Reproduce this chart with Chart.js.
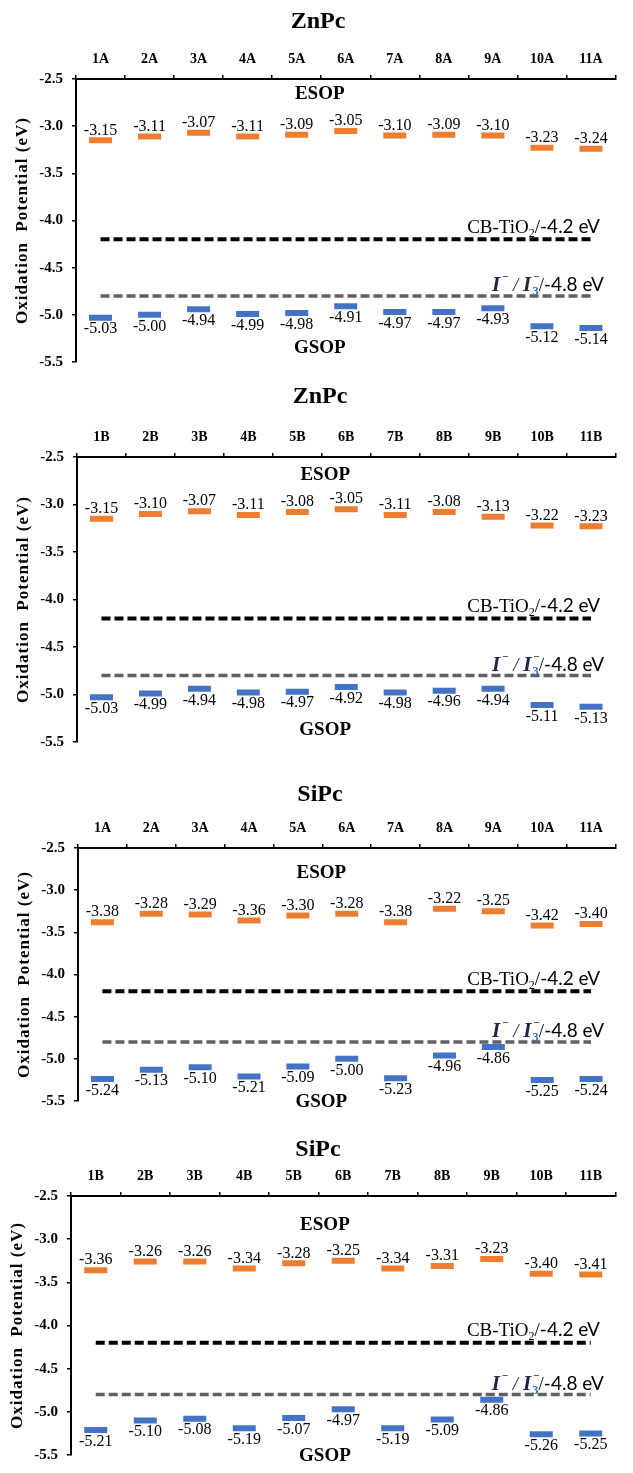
<!DOCTYPE html>
<html>
<head>
<meta charset="utf-8">
<script src="https://cdn.jsdelivr.net/npm/chart.js@4.4.0/dist/chart.umd.min.js"></script>
<style>
body{margin:0;background:#fff;width:633px;height:1473px;position:relative;overflow:hidden}
canvas{position:absolute;left:0}
</style>
</head>
<body>
<canvas id="c1" width="633" height="380" style="top:0px"></canvas>
<canvas id="c2" width="633" height="385" style="top:375px"></canvas>
<canvas id="c3" width="633" height="365" style="top:755px"></canvas>
<canvas id="c4" width="633" height="358" style="top:1115px"></canvas>
<script>
// categories
const catsA = ['1A','2A','3A','4A','5A','6A','7A','8A','9A','10A','11A'];
const catsB = ['1B','2B','3B','4B','5B','6B','7B','8B','9B','10B','11B'];
const yTicks = [-2.5, -3.0, -3.5, -4.0, -4.5, -5.0, -5.5];
const refLevels = [-4.2, -4.8];

// ZnPc A
const znA_esop = [-3.15,-3.11,-3.07,-3.11,-3.09,-3.05,-3.10,-3.09,-3.10,-3.23,-3.24];
const znA_gsop = [-5.03,-5.00,-4.94,-4.99,-4.98,-4.91,-4.97,-4.97,-4.93,-5.12,-5.14];
// ZnPc B
const znB_esop = [-3.15,-3.10,-3.07,-3.11,-3.08,-3.05,-3.11,-3.08,-3.13,-3.22,-3.23];
const znB_gsop = [-5.03,-4.99,-4.94,-4.98,-4.97,-4.92,-4.98,-4.96,-4.94,-5.11,-5.13];
// SiPc A
const siA_esop = [-3.38,-3.28,-3.29,-3.36,-3.30,-3.28,-3.38,-3.22,-3.25,-3.42,-3.40];
const siA_gsop = [-5.24,-5.13,-5.10,-5.21,-5.09,-5.00,-5.23,-4.96,-4.86,-5.25,-5.24];
// SiPc B
const siB_esop = [-3.36,-3.26,-3.26,-3.34,-3.28,-3.25,-3.34,-3.31,-3.23,-3.40,-3.41];
const siB_gsop = [-5.21,-5.10,-5.08,-5.19,-5.07,-4.97,-5.19,-5.09,-4.86,-5.26,-5.25];

const SERIF = "'Liberation Serif','Times New Roman',serif";
const SANS = "Lato,'Liberation Sans',sans-serif";
const ORANGE = '#ED7D31';
const BLUE = '#4472C4';

const panels = [
    {id:'c1', title:'ZnPc', cats:catsA, esop:znA_esop, gsop:znA_gsop,
     area:{l:76, t:79, r:623, b:363}, titleX:318, titleY:22, esopAt:[4.47,-2.66], gsopAt:[4.47,-5.35]},
    {id:'c2', title:'ZnPc', cats:catsB, esop:znB_esop, gsop:znB_gsop,
     area:{l:77, t:82, r:626, b:370}, titleX:320, titleY:22, esopAt:[4.57,-2.69], gsopAt:[4.57,-5.375]},
    {id:'c3', title:'SiPc', cats:catsA, esop:siA_esop, gsop:siA_gsop,
     area:{l:78, t:93, r:626, b:346}, titleX:320, titleY:40, esopAt:[4.48,-2.80], gsopAt:[4.48,-5.51]},
    {id:'c4', title:'SiPc', cats:catsB, esop:siB_esop, gsop:siB_gsop,
     area:{l:71, t:81, r:633, b:349}, titleX:318, titleY:35, esopAt:[4.63,-2.84], gsopAt:[4.63,-5.51]}
];

function drawRuns(ctx, runs, right, base)
{
    let w = 0;
    runs.forEach(r => {
        ctx.font = r.font;
        r.w = ctx.measureText(r.t).width + (r.after || 0);
        if(!r.stack) w += r.w;
    });
    let x = right - w;
    ctx.textAlign = 'left';
    ctx.textBaseline = 'alphabetic';
    runs.forEach(r => {
        ctx.font = r.font;
        ctx.fillStyle = r.color || '#000';
        ctx.fillText(r.t, x + (r.dx || 0), base + (r.dy || 0));
        if(!r.stack) x += r.w;
    });
}

function makePlugin(p)
{
    return {
        id: 'panelText',
        afterDraw(chart)
        {
            const ctx = chart.ctx;
            const xs = chart.scales.x, ys = chart.scales.y;
            const ca = chart.chartArea;
            ctx.save();

            // panel title
            ctx.fillStyle = '#000';
            ctx.font = 'bold 24px ' + SERIF;
            ctx.textAlign = 'center';
            ctx.textBaseline = 'middle';
            ctx.fillText(p.title, p.titleX, p.titleY);

            // y axis title
            ctx.save();
            ctx.translate(ca.left - 53, (ca.top + ca.bottom) / 2);
            ctx.rotate(-Math.PI / 2);
            ctx.font = 'bold 17px ' + SERIF;
            ctx.letterSpacing = '1px';
            ctx.fillText('Oxidation  Potential (eV)', 0, 0);
            ctx.restore();

            // value labels
            ctx.font = '16px ' + SERIF;
            ctx.textAlign = 'center';
            ctx.textBaseline = 'middle';
            ctx.fillStyle = '#000';
            chart.getDatasetMeta(0).data.forEach((pt, i) => {
                ctx.fillText(p.esop[i].toFixed(2), pt.x, pt.y - 10);
            });
            chart.getDatasetMeta(1).data.forEach((pt, i) => {
                ctx.fillText(p.gsop[i].toFixed(2), pt.x, pt.y + 11.5);
            });

            // ESOP / GSOP
            ctx.font = 'bold 19px ' + SERIF;
            ctx.fillText('ESOP', xs.getPixelForValue(p.esopAt[0]), ys.getPixelForValue(p.esopAt[1]));
            ctx.fillText('GSOP', xs.getPixelForValue(p.gsopAt[0]), ys.getPixelForValue(p.gsopAt[1]));

            // reference line labels
            const xr = xs.getPixelForValue(10);
            const y42 = ys.getPixelForValue(refLevels[0]);
            const y48 = ys.getPixelForValue(refLevels[1]);
            drawRuns(ctx, [
                {t:'CB-TiO', font:'19px ' + SERIF},
                {t:'2', font:'12px ' + SERIF, dy:4},
                {t:'/', font:'19px ' + SERIF},
                {t:'-4.2 eV', font:'19px ' + SANS}
            ], xr + 9, y42 - 6.5);
            drawRuns(ctx, [
                {t:'I', font:'italic bold 21px ' + SERIF, color:'#1d2645', after:2},
                {t:'\u2212', font:'bold 11px ' + SERIF, dy:-11, color:'#1d2645'},
                {t:' / ', font:'italic 19px ' + SERIF, color:'#1d2645'},
                {t:'I', font:'italic bold 21px ' + SERIF, color:'#1d2645', after:1},
                {t:'\u2212', font:'bold 11px ' + SERIF, dy:-11, dx:1, color:'#1d2645', stack:true},
                {t:'3', font:'bold 13px ' + SERIF, dy:4, color:'#3b6fc6'},
                {t:'/', font:'19px ' + SERIF},
                {t:'-4.8 eV', font:'19px ' + SANS}
            ], xr + 13, y48 - 5);

            ctx.restore();
        }
    };
}

panels.forEach(p =>
{
    const canvas = document.getElementById(p.id);
    const ctx = canvas.getContext('2d');
    const H = canvas.height;
    const xH = 30;

    new Chart(ctx, {
        type: 'line',
        data: {
            labels: p.cats,
            datasets: [
                {label:'ESOP', data:p.esop, showLine:false, pointStyle:'line',
                 pointRadius:11.5, pointHoverRadius:11.5, pointBorderWidth:6, pointHoverBorderWidth:6,
                 pointBorderColor:ORANGE, pointBackgroundColor:ORANGE, borderColor:ORANGE},
                {label:'GSOP', data:p.gsop, showLine:false, pointStyle:'line',
                 pointRadius:11.5, pointHoverRadius:11.5, pointBorderWidth:6, pointHoverBorderWidth:6,
                 pointBorderColor:BLUE, pointBackgroundColor:BLUE, borderColor:BLUE},
                {label:'CB', data:p.cats.map(() => refLevels[0]), borderColor:'#000', borderWidth:4,
                 borderDash:[9,4], pointRadius:0, fill:false},
                {label:'I', data:p.cats.map(() => refLevels[1]), borderColor:'#606060', borderWidth:3.5,
                 borderDash:[9,4], pointRadius:0, fill:false}
            ]
        },
        options: {
            responsive: false,
            animation: false,
            events: [],
            layout: {
                padding: {left:0, top:p.area.t - xH, right:633 - p.area.r, bottom:H - p.area.b}
            },
            plugins: {
                legend: {display:false},
                tooltip: {enabled:false},
                title: {display:false}
            },
            scales: {
                x: {
                    type: 'category',
                    position: 'top',
                    offset: true,
                    grid: {offset:true, drawOnChartArea:false, tickLength:4, color:'#000', lineWidth:1.5},
                    border: {color:'#000', width:2},
                    ticks: {autoSkip:false, maxRotation:0, color:'#000', padding:7,
                            font:{family:SERIF, weight:'bold', size:14}},
                    afterFit: s => { s.height = xH; }
                },
                y: {
                    min: yTicks[yTicks.length - 1],
                    max: yTicks[0],
                    grid: {drawOnChartArea:false, tickLength:4, color:'#000', lineWidth:1.5},
                    border: {color:'#000', width:2},
                    afterBuildTicks: s => { s.ticks = yTicks.map(v => ({value:v})); },
                    ticks: {color:'#000', padding:9, callback: v => v.toFixed(1),
                            font:{family:SERIF, weight:'bold', size:15}},
                    afterFit: s => { s.width = p.area.l; }
                }
            }
        },
        plugins: [makePlugin(p)]
    });
});
</script>
</body>
</html>
